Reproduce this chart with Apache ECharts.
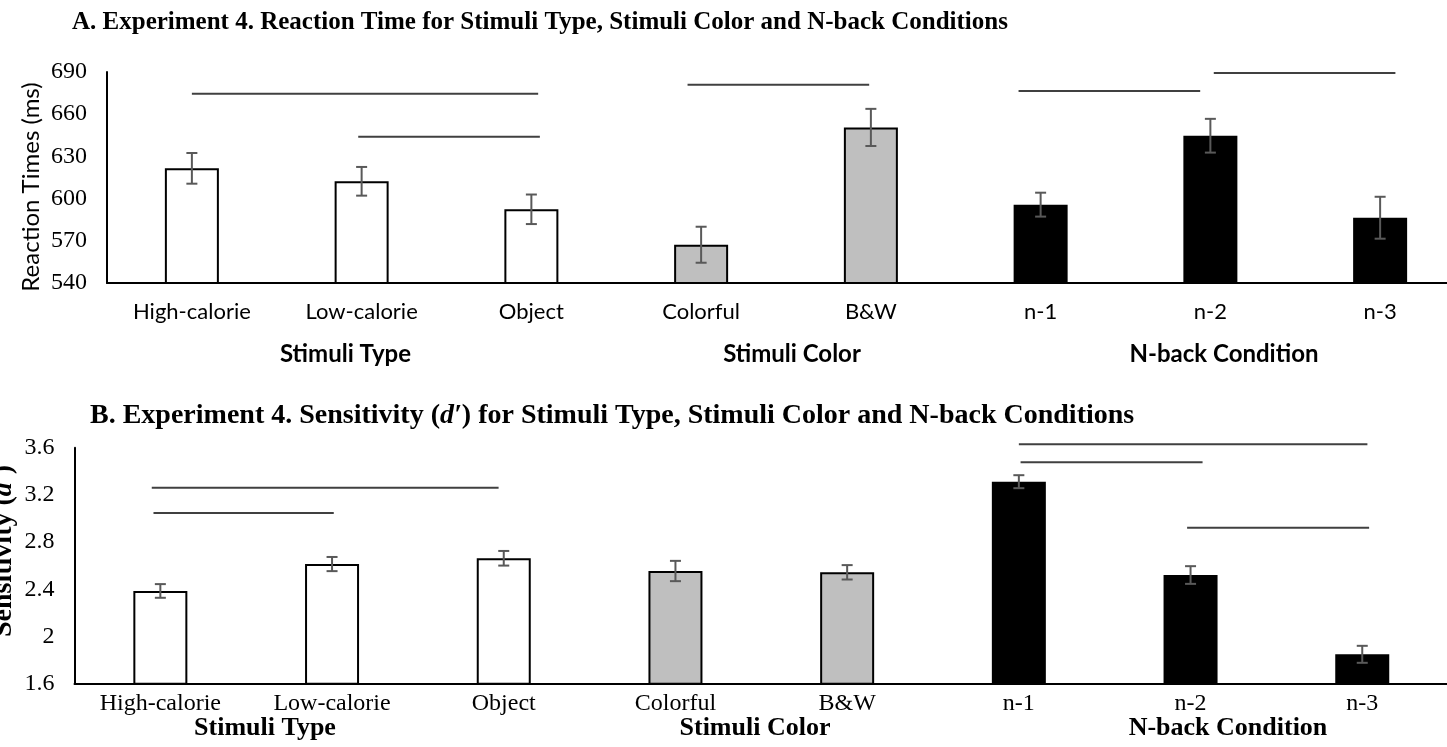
<!DOCTYPE html>
<html>
<head>
<meta charset="utf-8">
<script src="https://cdn.jsdelivr.net/npm/echarts@6/dist/echarts.min.js"></script>
<style>
html,body{margin:0;padding:0;background:#fff;}
#chart{width:1447px;height:747px;}
</style>
</head>
<body>
<div id="chart"></div>
<script>
// ---------- data ----------
const categories = ['High-calorie', 'Low-calorie', 'Object', 'Colorful', 'B&W', 'n-1', 'n-2', 'n-3'];
const groupOf = [0, 0, 0, 1, 1, 2, 2, 2];
const groupNames = ['Stimuli Type', 'Stimuli Color', 'N-back Condition'];

// Panel A: reaction time (ms)
const rtMean = [621.5, 612.3, 592.4, 567.2, 650.6, 595.7, 644.7, 586.4];
const rtErr  = [10.9, 10.2, 10.5, 12.8, 13.2, 8.5, 12.0, 14.9];
const rtAxis = { min: 540, max: 690, interval: 30 };
// significance brackets: [from position, to position, level]
const rtSig = [[0.00, 2.04, 674.5], [0.98, 2.05, 644.0], [2.92, 3.99, 681.0], [4.87, 5.94, 676.5], [6.02, 7.09, 689.3]];

// Panel B: sensitivity d'
const dMean = [2.386, 2.614, 2.663, 2.555, 2.544, 3.312, 2.521, 1.849];
const dErr  = [0.058, 0.060, 0.062, 0.086, 0.061, 0.055, 0.075, 0.072];
const dAxis = { min: 1.6, max: 3.6, interval: 0.4 };
const dSig = [[-0.05, 1.97, 3.261], [-0.04, 1.01, 3.047], [5.00, 7.03, 3.629], [5.01, 6.07, 3.476], [5.98, 7.04, 2.922]];

// ---------- styles ----------
const fills = ['#ffffff', '#bfbfbf', '#000000'];
const SERIF = '"Liberation Serif", "Times New Roman", serif';
const SANS = 'Lato, "Open Sans", sans-serif';

function errRender(params, api) {
  const x = api.value(0);
  const lo = api.coord([x, api.value(1)]);
  const hi = api.coord([x, api.value(2)]);
  const h = 5.5;
  const st = { stroke: '#595959', lineWidth: 2 };
  return { type: 'group', children: [
    { type: 'line', shape: { x1: hi[0], y1: hi[1], x2: lo[0], y2: lo[1] }, style: st },
    { type: 'line', shape: { x1: hi[0] - h, y1: hi[1], x2: hi[0] + h, y2: hi[1] }, style: st },
    { type: 'line', shape: { x1: lo[0] - h, y1: lo[1], x2: lo[0] + h, y2: lo[1] }, style: st }
  ]};
}
function sigRender(params, api) {
  const a = api.coord([api.value(0), api.value(2)]);
  const b = api.coord([api.value(1), api.value(2)]);
  return { type: 'line', shape: { x1: a[0], y1: a[1], x2: b[0], y2: b[1] }, style: { stroke: '#404040', lineWidth: 2 } };
}

const xLine = { show: true, onZero: false, lineStyle: { color: '#000', width: 2 } };
const yLine = { show: true, onZero: false, lineStyle: { color: '#000', width: 2 } };

const chart = echarts.init(document.getElementById('chart'), null, { renderer: 'canvas' });
chart.setOption({
  animation: false,
  backgroundColor: '#fff',
  grid: [
    { left: 107, top: 72, width: 1358, height: 211, outerBoundsMode: 'none', containLabel: false },
    { left: 74.5, top: 447.7, width: 1373.6, height: 236, outerBoundsMode: 'none', containLabel: false }
  ],
  xAxis: [
    { type: 'category', gridIndex: 0, data: categories, axisLine: xLine, axisTick: { show: false },
      axisLabel: { fontFamily: SANS, fontSize: 22, color: '#000', margin: 18 } },
    { type: 'value', gridIndex: 0, min: -0.5, max: 7.5, show: false },
    { type: 'category', gridIndex: 1, data: categories, axisLine: xLine, axisTick: { show: false },
      axisLabel: { fontFamily: SERIF, fontSize: 24, color: '#000', margin: 8 } },
    { type: 'value', gridIndex: 1, min: -0.5, max: 7.5, show: false }
  ],
  yAxis: [
    { type: 'value', gridIndex: 0, min: rtAxis.min, max: rtAxis.max, interval: rtAxis.interval,
      splitLine: { show: false }, axisLine: yLine, axisTick: { show: false },
      axisLabel: { fontFamily: SERIF, fontSize: 24, color: '#000', margin: 20 } },
    { type: 'value', gridIndex: 1, min: dAxis.min, max: dAxis.max, interval: dAxis.interval,
      splitLine: { show: false }, axisLine: yLine, axisTick: { show: false },
      axisLabel: { fontFamily: SERIF, fontSize: 24, color: '#000', margin: 20 } }
  ],
  series: [
    { type: 'bar', xAxisIndex: 0, yAxisIndex: 0, barWidth: 54,
      itemStyle: { borderColor: '#000', borderWidth: 2 },
      data: rtMean.map((v, i) => ({ value: v, itemStyle: { color: fills[groupOf[i]] } })) },
    { type: 'custom', xAxisIndex: 0, yAxisIndex: 0, renderItem: errRender, encode: { x: 0, y: [1, 2] },
      data: rtMean.map((v, i) => [i, v - rtErr[i], v + rtErr[i]]), z: 5 },
    { type: 'custom', xAxisIndex: 1, yAxisIndex: 0, renderItem: sigRender, encode: { x: [0, 1], y: 2 }, clip: false,
      data: rtSig },
    { type: 'bar', xAxisIndex: 2, yAxisIndex: 1, barWidth: 54,
      itemStyle: { borderColor: '#000', borderWidth: 2 },
      data: dMean.map((v, i) => ({ value: v, itemStyle: { color: fills[groupOf[i]] } })) },
    { type: 'custom', xAxisIndex: 2, yAxisIndex: 1, renderItem: errRender, encode: { x: 0, y: [1, 2] },
      data: dMean.map((v, i) => [i, v - dErr[i], v + dErr[i]]), z: 5 },
    { type: 'custom', xAxisIndex: 3, yAxisIndex: 1, renderItem: sigRender, encode: { x: [0, 1], y: 2 }, clip: false,
      data: dSig }
  ],
  graphic: [
    { type: 'text', left: 72, top: 10, style: {
        text: 'A. Experiment 4. Reaction Time for Stimuli Type, Stimuli Color and N-back Conditions',
        font: 'bold 25px ' + SERIF, fill: '#000' } },
    { type: 'text', left: 90, top: 402, style: {
        text: '{b|B. Experiment 4. Sensitivity (}{i|d′}{b|) for Stimuli Type, Stimuli Color and N-back Conditions}',
        fill: '#000',
        rich: { b: { font: 'bold 28px ' + SERIF, fill: '#000' }, i: { font: 'italic bold 28px ' + SERIF, fill: '#000' } } } },
    { type: 'text', x: 31, y: 187, rotation: Math.PI / 2, style: {
        text: 'Reaction Times (ms)', font: '24px ' + SANS, fill: '#000', align: 'center', verticalAlign: 'middle' } },
    { type: 'text', x: 4, y: 551, rotation: Math.PI / 2, style: {
        text: '{b|Sensitivity (}{i|d′}{b|)}', fill: '#000', align: 'center', verticalAlign: 'middle',
        rich: { b: { font: 'bold 28px ' + SERIF, fill: '#000' }, i: { font: 'italic bold 28px ' + SERIF, fill: '#000' } } } },
    { type: 'text', x: 345.5, y: 354, style: { text: groupNames[0], font: 'bold 24px ' + SANS, fill: '#000', align: 'center', verticalAlign: 'middle' } },
    { type: 'text', x: 792, y: 354, style: { text: groupNames[1], font: 'bold 24px ' + SANS, fill: '#000', align: 'center', verticalAlign: 'middle' } },
    { type: 'text', x: 1224, y: 354, style: { text: groupNames[2], font: 'bold 24px ' + SANS, fill: '#000', align: 'center', verticalAlign: 'middle' } },
    { type: 'text', x: 265, y: 728, style: { text: groupNames[0], font: 'bold 26px ' + SERIF, fill: '#000', align: 'center', verticalAlign: 'middle' } },
    { type: 'text', x: 755, y: 728, style: { text: groupNames[1], font: 'bold 26px ' + SERIF, fill: '#000', align: 'center', verticalAlign: 'middle' } },
    { type: 'text', x: 1228, y: 728, style: { text: groupNames[2], font: 'bold 26px ' + SERIF, fill: '#000', align: 'center', verticalAlign: 'middle' } }
  ]
});
</script>
</body>
</html>
